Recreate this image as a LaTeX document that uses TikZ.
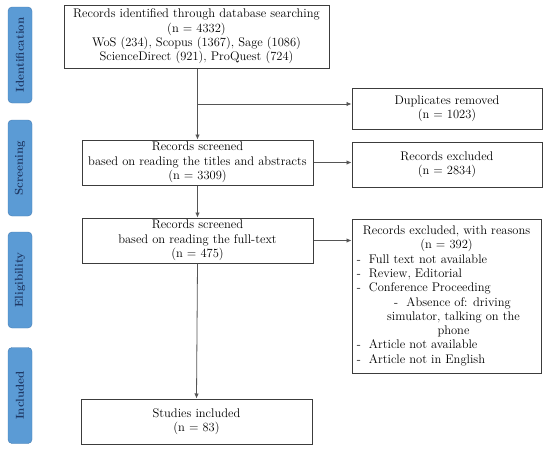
\documentclass[tikz,border=0pt]{standalone}
\usepackage{tikz}
\usetikzlibrary{arrows.meta,positioning,calc}
\definecolor{ink}{RGB}{60,60,60}
\definecolor{wire}{RGB}{85,85,85}
\definecolor{stagefill}{RGB}{91,155,213}
\definecolor{stageedge}{RGB}{70,125,180}
\definecolor{stagetext}{RGB}{31,56,100}
\newcommand{\boxfont}{\fontsize{12.5}{14.3}\selectfont}
\newcommand{\stagefont}{\fontsize{11.5}{13}\selectfont\bfseries}
\tikzset{
  stage/.style={draw=stageedge,fill=stagefill,rounded corners=4pt,rotate=90,
    minimum width=96pt,minimum height=24pt,inner sep=0pt,text=stagetext,font=\stagefont},
  box/.style={draw=ink,line width=1pt,fill=white,align=center,inner sep=2pt,font=\boxfont},
  arr/.style={-{Latex[length=5pt,width=4.5pt]},line width=0.8pt,wire},
}

\begin{document}
\begin{tikzpicture}[x=1pt,y=-1pt]
\useasboundingbox (0,0) rectangle (550,450);
% phases
\node[stage] (sIdent) at (20,55) {Identification};
\node[stage] (sScreen) at (20,168) {Screening};
\node[stage] (sElig) at (20,280) {Eligibility};
\node[stage] (sIncl) at (20,395.5) {Included};
% left column
\node[box,minimum width=265pt,minimum height=63pt] (ident) at (196.5,36.5)
  {Records identified through database searching\\(n = 4332)\\
   WoS (234), Scopus (1367), Sage (1086)\\ScienceDirect (921), ProQuest (724)};
\node[box,minimum width=231pt,minimum height=45pt] (screen) at (197.5,162.5)
  {Records screened\\based on reading the titles and abstracts\\(n = 3309)};
\node[box,minimum width=231pt,minimum height=45pt] (elig) at (197.5,240.5)
  {Records screened\\based on reading the full-text\\(n = 475)};
\node[box,minimum width=231pt,minimum height=45pt] (incl) at (196.5,421.5)
  {Studies included\\(n = 83)};
% right column
\node[box,minimum width=190pt,minimum height=41pt] (dup) at (447,108.5)
  {Duplicates removed\\(n = 1023)};
\node[box,minimum width=190pt,minimum height=45pt] (excl) at (447,164.5)
  {Records excluded\\(n = 2834)};
\node[box,minimum width=189pt,minimum height=154pt] (reasons) at (446.5,296)
  {\begin{tabular}{@{}l@{\hspace{8pt}}l@{}}
   \multicolumn{2}{c}{Records excluded, with reasons}\\
   \multicolumn{2}{c}{(n = 392)}\\
   - & Full text not available\\
   - & Review, Editorial\\
   - & Conference Proceeding\\
   \multicolumn{2}{c}{\hspace*{12pt}- \ Absence of: driving}\\
   \multicolumn{2}{c}{\hspace*{14pt}simulator, talking on the}\\
   \multicolumn{2}{c}{\hspace*{14pt}phone}\\
   - & Article not available\\
   - & Article not in English
   \end{tabular}};
% flow
\coordinate (split) at ($(ident.south -| screen.north)!0.5!(screen.north)$);
\draw[arr] (ident.south -| screen.north) -- (screen.north);
\draw[arr] (split) -- (split -| dup.west);
\draw[arr] (screen.east) -- (screen.east -| excl.west);
\draw[arr] (screen.south) -- (elig.north);
\draw[arr] (elig.east) -- (elig.east -| reasons.west);
\draw[arr] (elig.south) -- (incl.north);
\end{tikzpicture}
\end{document}
